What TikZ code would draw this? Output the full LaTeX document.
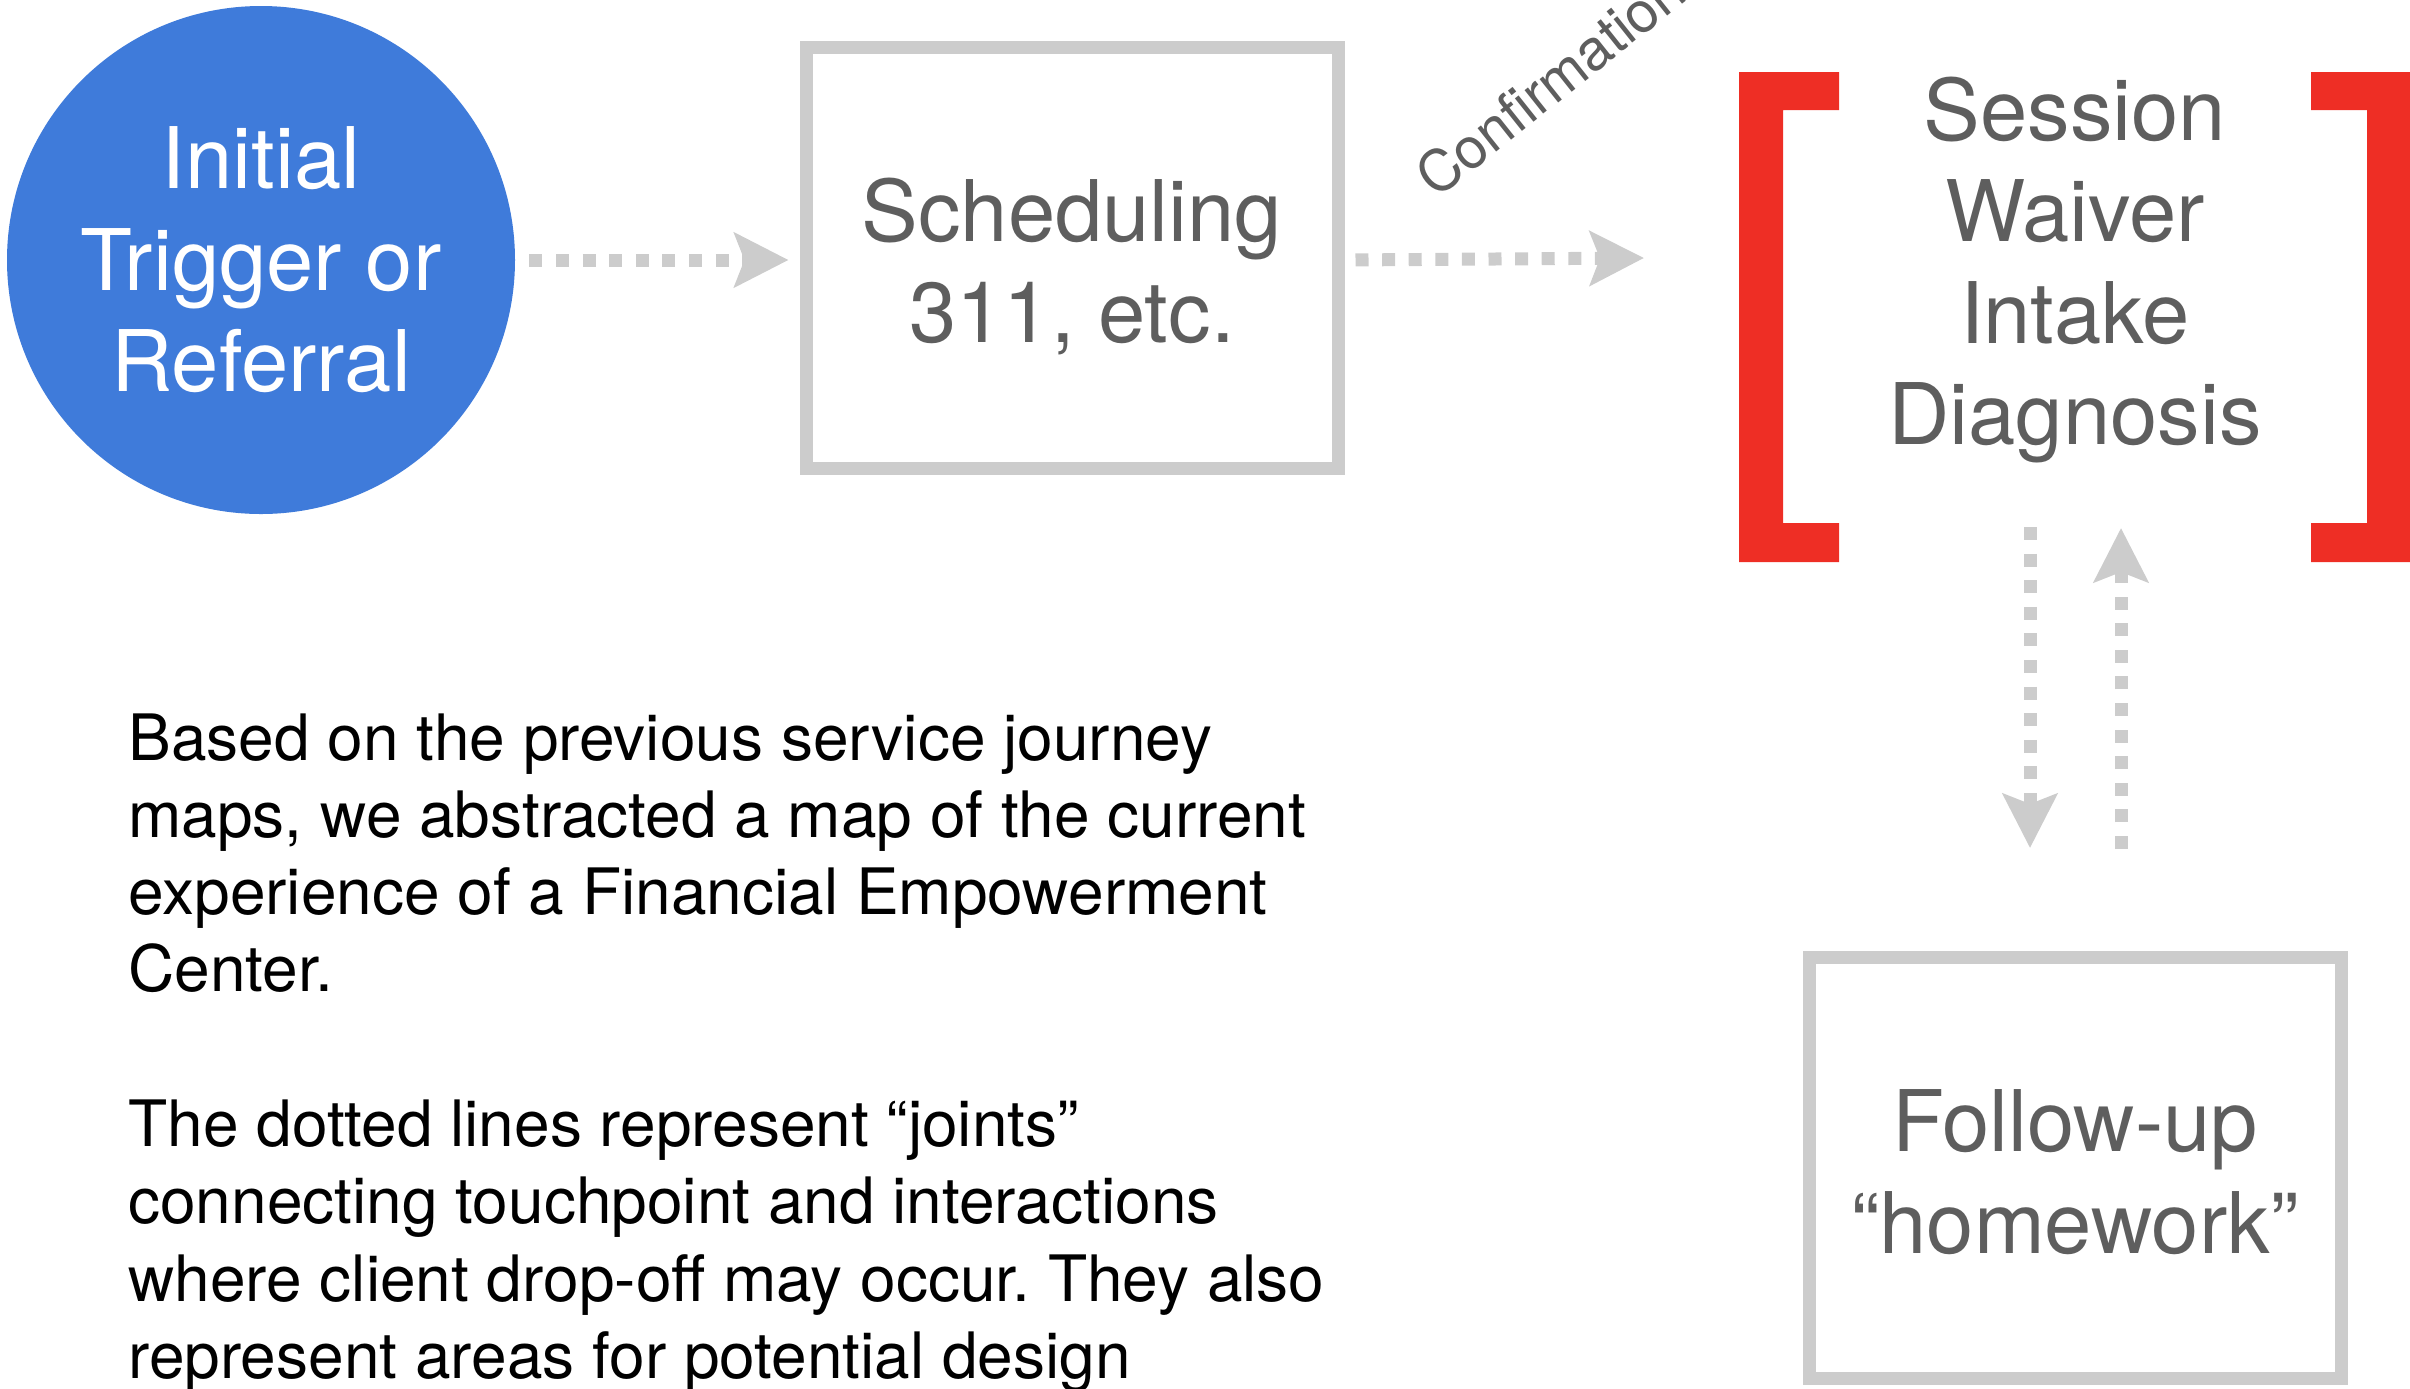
\documentclass[tikz,border=0pt]{standalone}
\usepackage{fontspec}
\setmainfont{TeX Gyre Heros}
\usetikzlibrary{arrows.meta,positioning}

\definecolor{trigblue}{RGB}{63,123,218}
\definecolor{jointgray}{RGB}{204,204,204}
\definecolor{labelgray}{RGB}{94,94,94}
\definecolor{brackred}{RGB}{238,46,37}

\newcommand{\bigtext}{\fontsize{42.5}{50.75}\selectfont}
\frenchspacing

\begin{document}
\begin{tikzpicture}[x=0.5pt,y=-0.5pt,on grid,
    touch/.style={draw=jointgray,line width=6.5pt,minimum width=266pt,minimum height=210.5pt,
      text=labelgray,align=center,font=\bigtext},
    joint/.style={draw=jointgray,line width=6.5pt,dash pattern=on 6.5pt off 6.8pt,
      -{Stealth[length=27pt,width=27pt,inset=5pt]}}]
  \useasboundingbox (0,0) rectangle (2410,1388);

  \node[circle,fill=trigblue,minimum size=254pt,inner sep=0pt,text=white,align=center,font=\bigtext] (trig) at (261,260) {Initial\\Trigger or\\Referral};
  \node[touch,yshift=1pt] (sched) [right=405.5pt of trig] {\rule{0pt}{40pt}Scheduling\\311, etc.};
  \node[text=labelgray,align=center,font=\bigtext] (sess) [right=501.5pt of sched,yshift=-6pt] {Session\\Waiver\\Intake\\Diagnosis};
  \node[touch] (fol) [below=449pt of sess] {\rule{0pt}{35pt}Follow-up\\“homework”};

  % brackets round the session
  \fill[brackred] (1839,72) -- (1739,72) -- (1739,562) -- (1839,562) -- (1839,523)
    -- (1783,523) -- (1783,110) -- (1839,110) -- cycle;
  \fill[brackred] (2311,72) -- (2411,72) -- (2411,562) -- (2311,562) -- (2311,523)
    -- (2367,523) -- (2367,110) -- (2311,110) -- cycle;

  \node[text=labelgray,rotate=38.5,anchor=base west,inner sep=0pt,font=\fontsize{28.5}{34}\selectfont] (conf) at (1436,200) {Confirmation};

  \coordinate (sessin) at (1644,258);
  \coordinate (dntop) at (2030,527);
  \coordinate (dnbot) at (2030,848);
  \coordinate (uptop) at (2121,528);
  \coordinate (upbot) at (2121,849);

  \path (trig.east) edge[joint,shorten <=7pt,shorten >=5.5pt] (sched.west |- trig.east)
        (sched.east |- trig.east) edge[joint,shorten <=5.5pt] (sessin)
        (dntop) edge[joint] (dnbot)
        (upbot) edge[joint] (uptop);

  \node[anchor=north west,align=left,inner sep=0pt,font=\fontsize{32}{38.65}\selectfont] (note) at (128,713)
    {Based on the previous service journey\\
     maps, we abstracted a map of the current\\
     experience of a Financial Empowerment\\
     Center.\\[38.65pt]
     The dotted lines represent “joints”\\
     connecting touchpoint and interactions\\
     where client drop-off may occur. They also\\
     represent areas for potential design};
\end{tikzpicture}
\end{document}
